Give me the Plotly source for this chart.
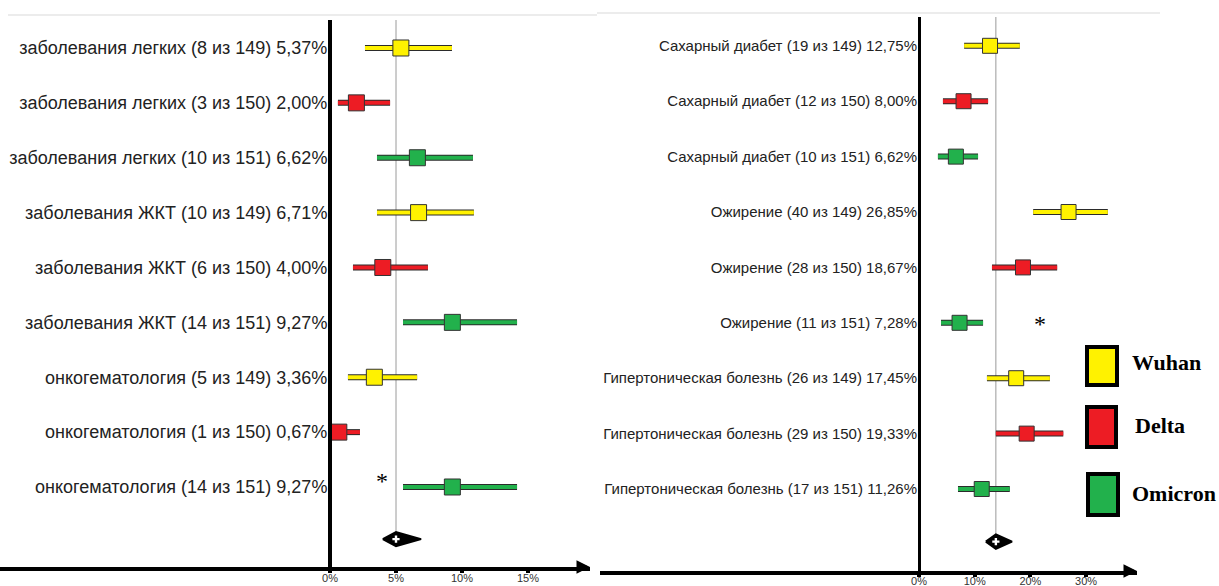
import plotly.graph_objects as go

# ---- data -------------------------------------------------------------
groups = ["Wuhan", "Delta", "Omicron"]
group_colors = {"Wuhan": "#FFF200", "Delta": "#ED1C24", "Omicron": "#22B14C"}

left_labels = [
    "заболевания легких (8 из 149) 5,37%",
    "заболевания легких (3 из 150) 2,00%",
    "заболевания легких (10 из 151) 6,62%",
    "заболевания ЖКТ (10 из 149) 6,71%",
    "заболевания ЖКТ (6 из 150) 4,00%",
    "заболевания ЖКТ (14 из 151) 9,27%",
    "онкогематология (5 из 149) 3,36%",
    "онкогематология (1 из 150) 0,67%",
    "онкогематология (14 из 151) 9,27%",
]
left_values = [5.37, 2.00, 6.62, 6.71, 4.00, 9.27, 3.36, 0.67, 9.27]
left_lo = [2.65, 0.60, 3.56, 3.56, 1.74, 5.53, 1.36, 0.00, 5.53]
left_hi = [9.24, 4.55, 10.83, 10.90, 7.42, 14.17, 6.60, 2.27, 14.17]

right_labels = [
    "Сахарный диабет (19 из 149) 12,75%",
    "Сахарный диабет (12 из 150) 8,00%",
    "Сахарный диабет (10 из 151) 6,62%",
    "Ожирение (40 из 149) 26,85%",
    "Ожирение (28 из 150) 18,67%",
    "Ожирение (11 из 151) 7,28%",
    "Гипертоническая болезнь (26 из 149) 17,45%",
    "Гипертоническая болезнь (29 из 150) 19,33%",
    "Гипертоническая болезнь (17 из 151) 11,26%",
]
right_values = [12.75, 8.00, 6.62, 26.85, 18.67, 7.28, 17.45, 19.33, 11.26]
right_lo = [8.10, 4.30, 3.40, 20.50, 13.10, 3.95, 12.20, 13.80, 7.00]
right_hi = [18.10, 12.40, 10.60, 33.90, 24.80, 11.50, 23.50, 25.90, 16.30]

row_groups = ["Wuhan", "Delta", "Omicron"] * 3

# pooled estimates (centre, lower, upper)
left_pooled = (5.0, 4.0, 6.9)
right_pooled = (13.8, 12.0, 16.7)

# significance marks: (x, row)
left_star = (3.94, 7.89)
right_star = (21.7, 4.99)

left_ticks = [0, 5, 10, 15]
right_ticks = [0, 10, 20, 30]

# ---- layout helpers ---------------------------------------------------
W, H = 1219, 586


def fx(p):
    return p / W


def fy(p):
    return 1 - p / H


rows = list(range(len(left_labels)))
fig = go.Figure()


def add_panel(vals, lo, hi, pooled, xa, ya, top_row, msize):
    # dark outline under each interval
    for g in groups:
        idx = [i for i, gg in enumerate(row_groups) if gg == g]
        fig.add_trace(go.Scatter(
            x=[vals[i] for i in idx], y=[rows[i] for i in idx], mode="markers",
            marker=dict(size=1, color="rgba(0,0,0,0)"),
            error_x=dict(type="data", symmetric=False,
                         array=[hi[i] - vals[i] for i in idx],
                         arrayminus=[vals[i] - lo[i] for i in idx],
                         color="#2b2b2b", thickness=6, width=0),
            xaxis=xa, yaxis=ya, showlegend=False, hoverinfo="skip"))
    # coloured intervals and point estimates
    for g in groups:
        idx = [i for i, gg in enumerate(row_groups) if gg == g]
        fig.add_trace(go.Scatter(
            x=[vals[i] for i in idx], y=[rows[i] for i in idx], mode="markers",
            marker=dict(symbol="square", size=msize, color=group_colors[g],
                        line=dict(color="#333333", width=1)),
            error_x=dict(type="data", symmetric=False,
                         array=[hi[i] - vals[i] for i in idx],
                         arrayminus=[vals[i] - lo[i] for i in idx],
                         color=group_colors[g], thickness=4, width=0),
            xaxis=xa, yaxis=ya, name=g, showlegend=False))
    # pooled diamond
    c, l, h = pooled
    d = 8.95
    hh = 0.13
    fig.add_trace(go.Scatter(
        x=[l, c, h, c, l], y=[d, d - hh, d, d + hh, d], mode="lines",
        fill="toself", fillcolor="black", line=dict(color="black", width=2),
        xaxis=xa, yaxis=ya, showlegend=False, hoverinfo="skip"))
    fig.add_trace(go.Scatter(
        x=[c], y=[d], mode="markers",
        marker=dict(symbol="cross", size=6, color="white"),
        xaxis=xa, yaxis=ya, showlegend=False, hoverinfo="skip"))
    # reference line
    fig.add_shape(type="line", xref=xa, yref=ya, x0=c, x1=c, y0=top_row, y1=d - hh,
                  line=dict(color="#9a9a9a", width=1), layer="below")


add_panel(left_values, left_lo, left_hi, left_pooled, "x", "y", -0.51, 16)
add_panel(right_values, right_lo, right_hi, right_pooled, "x2", "y2", -0.52, 15)

label_font = "Liberation Sans, Arial, sans-serif"
tick_font = dict(family=label_font, size=11, color="#333333")

fig.update_layout(
    template="none",
    width=W, height=H, margin=dict(l=0, r=0, t=0, b=0, autoexpand=False),
    paper_bgcolor="white", plot_bgcolor="white", showlegend=False,
    xaxis=dict(domain=[0, fx(590)], range=[-330 / 13.2, 260 / 13.2], anchor="y",
               automargin=False,
               showline=True, linecolor="black", linewidth=4,
               ticks="outside", ticklen=2, tickwidth=4, tickcolor="black",
               ticklabelstandoff=-4,
               tickvals=left_ticks, ticktext=[f"{t}%" for t in left_ticks],
               tickfont=tick_font, showgrid=False, zeroline=False),
    yaxis=dict(domain=[1 - 567 / H, 1 - 20 / H], range=[9.458, -0.51],
               anchor="free", position=fx(330), automargin=False,
               showline=True, linecolor="black", linewidth=4,
               tickvals=rows, ticktext=left_labels, ticks="", ticklabelstandoff=-3,
               tickfont=dict(family=label_font, size=18, color="#222222"),
               showgrid=False, zeroline=False),
    xaxis2=dict(domain=[fx(600), fx(1137)], range=[(600 - 919) / 5.57, (1137 - 919) / 5.57],
                anchor="y2", automargin=False,
                showline=True, linecolor="black", linewidth=4,
                ticks="outside", ticklen=2, tickwidth=4, tickcolor="black",
                ticklabelstandoff=-5,
                tickvals=right_ticks, ticktext=[f"{t}%" for t in right_ticks],
                tickfont=tick_font, showgrid=False, zeroline=False),
    yaxis2=dict(domain=[1 - 571 / H, 1 - 17 / H], range=[9.48, -0.52],
                anchor="free", position=fx(919), automargin=False,
                showline=True, linecolor="black", linewidth=3,
                tickvals=rows, ticktext=right_labels, ticks="", ticklabelstandoff=-2,
                tickfont=dict(family=label_font, size=15, color="#222222"),
                showgrid=False, zeroline=False),
)

# axis arrowheads
for xr, yr in (("x domain", "y domain"), ("x2 domain", "y2 domain")):
    fig.add_annotation(x=1, y=0, xref=xr, yref=yr, ax=-10, ay=0, text="",
                       showarrow=True, arrowhead=2, arrowsize=0.9, arrowwidth=3,
                       arrowcolor="black")

# significance asterisks
fig.add_annotation(x=left_star[0], y=left_star[1], xref="x", yref="y", text="*",
                   showarrow=False,
                   font=dict(family="Liberation Serif", size=24, color="black"))
fig.add_annotation(x=right_star[0], y=right_star[1], xref="x2", yref="y2", text="*",
                   showarrow=False, yshift=-2,
                   font=dict(family="Liberation Serif", size=24, color="black"))

# legend: framed colour swatches with bold labels
legend_items = [
    ("Wuhan", (1087, 1117, 347, 385), 1130, 362),
    ("Delta", (1087, 1116, 407, 447), 1133, 425),
    ("Omicron", (1088, 1118, 474, 515), 1130, 493),
]
for name, (x0, x1, y0, y1), tx, ty in legend_items:
    fig.add_shape(type="rect", xref="paper", yref="paper",
                  x0=fx(x0), x1=fx(x1), y0=fy(y1), y1=fy(y0),
                  fillcolor=group_colors[name], line=dict(color="black", width=4))
    fig.add_annotation(x=fx(tx), y=fy(ty), xref="paper", yref="paper", text=name,
                       xanchor="left", yanchor="middle", showarrow=False,
                       font=dict(family="Liberation Serif", size=22, color="black",
                                 weight="bold"))

# faint frame lines along the top edge
fig.add_shape(type="line", xref="paper", yref="paper", x0=fx(8), x1=fx(597),
              y0=fy(15), y1=fy(15), line=dict(color="#ececec", width=2))
fig.add_shape(type="line", xref="paper", yref="paper", x0=fx(597), x1=fx(1160),
              y0=fy(13), y1=fy(13), line=dict(color="#ececec", width=2))

fig.write_html("out.html")
